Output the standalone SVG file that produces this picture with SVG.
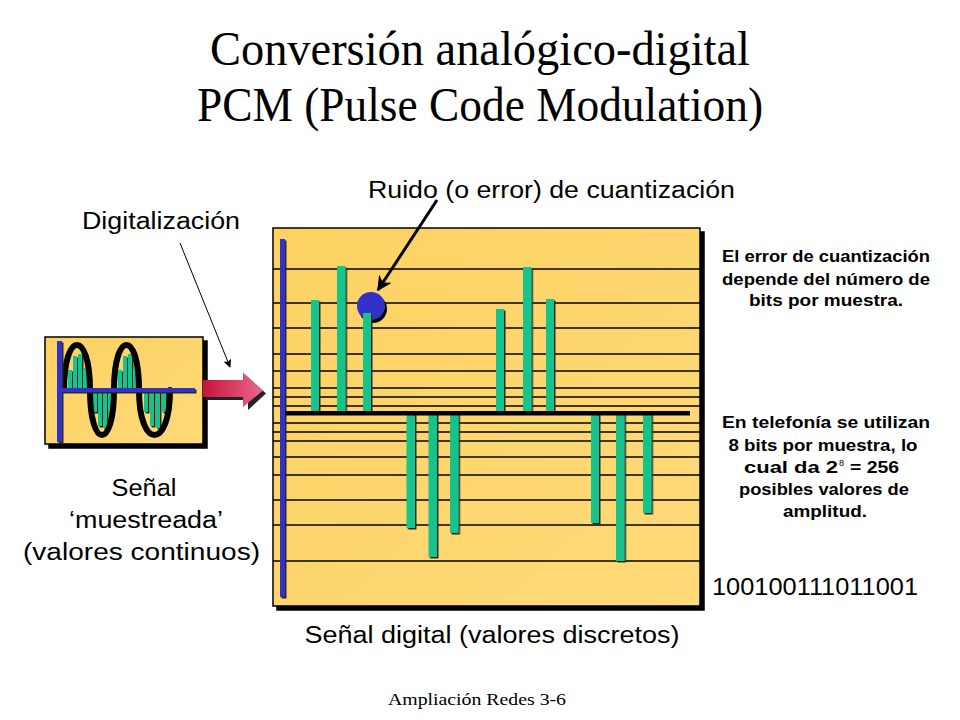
<svg xmlns="http://www.w3.org/2000/svg" width="960" height="720" viewBox="0 0 960 720">
<defs>
  <linearGradient id="boxFill" x1="0" y1="0" x2="1" y2="1">
    <stop offset="0" stop-color="#FDD263"/>
    <stop offset="1" stop-color="#FFDA78"/>
  </linearGradient>
  <linearGradient id="redArrow" x1="0" y1="0" x2="1" y2="0">
    <stop offset="0" stop-color="#C8143C"/>
    <stop offset="1" stop-color="#E8688A"/>
  </linearGradient>
  <filter id="boxShadow" x="-5%" y="-5%" width="115%" height="115%">
    <feDropShadow dx="4" dy="4" stdDeviation="0" flood-color="#000" flood-opacity="1"/>
  </filter>
  <filter id="barShadow" x="-50%" y="-5%" width="200%" height="110%">
    <feDropShadow dx="1.5" dy="1.5" stdDeviation="0" flood-color="#2a2a2a" flood-opacity="1"/>
  </filter>
  <marker id="arrowThick" viewBox="0 0 10 10" refX="9" refY="5" markerWidth="5" markerHeight="5" orient="auto" markerUnits="strokeWidth">
    <path d="M0,0 L10,5 L0,10 L3,5 Z" fill="#000"/>
  </marker>
  <marker id="arrowThin" viewBox="0 0 10 10" refX="9" refY="5" markerWidth="10" markerHeight="8" orient="auto" markerUnits="strokeWidth">
    <path d="M0,0 L10,5 L0,10 L2,5 Z" fill="#000"/>
  </marker>
  <style>
    .title { font-family: "Liberation Serif", "Times New Roman", serif; font-size: 48px; fill: #000; text-anchor: middle; }
    .label { font-family: "Liberation Sans", Arial, sans-serif; font-size: 23px; fill: #000; text-anchor: middle; }
    .note { font-family: "Liberation Sans", Arial, sans-serif; font-size: 16px; font-weight: bold; fill: #000; text-anchor: middle; }
    .noteL { font-family: "Liberation Sans", Arial, sans-serif; font-size: 16px; font-weight: bold; fill: #000; }
    .sup { font-family: "Liberation Sans", Arial, sans-serif; font-size: 9px; fill: #000; }
    .footer { font-family: "Liberation Serif", "Times New Roman", serif; font-size: 17px; fill: #000; text-anchor: middle; }
    .grid { stroke: #000; stroke-width: 1.3; }
    .bar { fill: #19C38C; }
    .axisBlue { fill: #3232C8; }
  </style>
</defs>

<rect x="0" y="0" width="960" height="720" fill="#fff"/>

<g id="title">
  <text class="title" x="480" y="65" textLength="540" lengthAdjust="spacingAndGlyphs">Conversión analógico-digital</text>
  <text class="title" x="480" y="121" textLength="566" lengthAdjust="spacingAndGlyphs">PCM (Pulse Code Modulation)</text>
</g>

<!-- Small sampled signal box -->
<g id="sampled-signal">
  <rect x="45" y="337" width="158" height="107" fill="url(#boxFill)" stroke="#000" stroke-width="1.5" filter="url(#boxShadow)"/>
  <g filter="url(#barShadow)">
    <rect class="bar" x="68" y="370" width="4" height="20"/>
    <rect class="bar" x="73" y="356" width="4" height="34"/>
    <rect class="bar" x="78" y="354" width="4" height="36"/>
    <rect class="bar" x="83" y="368" width="4" height="22"/>
    <rect class="bar" x="93" y="390" width="4" height="22"/>
    <rect class="bar" x="98" y="390" width="4" height="36"/>
    <rect class="bar" x="103" y="390" width="4" height="38"/>
    <rect class="bar" x="108" y="390" width="4" height="22"/>
    <rect class="bar" x="118" y="370" width="4" height="20"/>
    <rect class="bar" x="123" y="356" width="4" height="34"/>
    <rect class="bar" x="128" y="354" width="4" height="36"/>
    <rect class="bar" x="133" y="368" width="4" height="22"/>
    <rect class="bar" x="144" y="390" width="4" height="22"/>
    <rect class="bar" x="150" y="390" width="4" height="36"/>
    <rect class="bar" x="156" y="390" width="4" height="38"/>
    <rect class="bar" x="162" y="390" width="4" height="22"/>
  </g>
  <path fill="none" stroke="#000" stroke-width="6" stroke-linejoin="round" stroke-linecap="round"
    d="M64,390 C64,330 90,330 90,390 C90,450 114,450 114,390 C114,330 139,330 139,390 C139,450 170,450 170,390"/>
  <g filter="url(#barShadow)">
    <rect class="axisBlue" x="57" y="341" width="5" height="101"/>
    <rect class="axisBlue" x="62" y="388" width="133" height="4"/>
  </g>
</g>

<!-- Main digital signal box -->
<g id="digital-signal">
  <rect x="273" y="228" width="427" height="378" fill="url(#boxFill)" stroke="#000" stroke-width="1.5" filter="url(#boxShadow)"/>
  <g id="levels">
    <line class="grid" x1="273" y1="269" x2="700" y2="269"/>
    <line class="grid" x1="273" y1="303" x2="700" y2="303"/>
    <line class="grid" x1="273" y1="328" x2="700" y2="328"/>
    <line class="grid" x1="273" y1="354" x2="700" y2="354"/>
    <line class="grid" x1="273" y1="371" x2="700" y2="371"/>
    <line class="grid" x1="273" y1="388" x2="700" y2="388"/>
    <line class="grid" x1="273" y1="397" x2="700" y2="397"/>
    <line class="grid" x1="273" y1="406" x2="700" y2="406"/>
    <line class="grid" x1="273" y1="423" x2="700" y2="423"/>
    <line class="grid" x1="273" y1="432" x2="700" y2="432"/>
    <line class="grid" x1="273" y1="441" x2="700" y2="441"/>
    <line class="grid" x1="273" y1="457" x2="700" y2="457"/>
    <line class="grid" x1="273" y1="475" x2="700" y2="475"/>
    <line class="grid" x1="273" y1="500" x2="700" y2="500"/>
    <line class="grid" x1="273" y1="525" x2="700" y2="525"/>
    <line class="grid" x1="273" y1="561" x2="700" y2="561"/>
  </g>
  <g id="error-dot">
    <circle cx="373" cy="309" r="14" fill="#000"/>
    <circle cx="371" cy="306" r="14" fill="#3232C8"/>
  </g>
  <g id="samples" filter="url(#barShadow)">
    <rect class="bar" x="311" y="300" width="8" height="113"/>
    <rect class="bar" x="337" y="266" width="8.5" height="147"/>
    <rect class="bar" x="363" y="313" width="8" height="100"/>
    <rect class="bar" x="496" y="309" width="8" height="104"/>
    <rect class="bar" x="523" y="267" width="8.5" height="146"/>
    <rect class="bar" x="546" y="299" width="8" height="114"/>
    <rect class="bar" x="406.5" y="413" width="8.5" height="115"/>
    <rect class="bar" x="428.5" y="413" width="8.5" height="144"/>
    <rect class="bar" x="450" y="413" width="8.5" height="120"/>
    <rect class="bar" x="591" y="413" width="8" height="110"/>
    <rect class="bar" x="616" y="413" width="8.5" height="148"/>
    <rect class="bar" x="643" y="413" width="8.5" height="100"/>
  </g>
  <g filter="url(#barShadow)">
    <rect class="axisBlue" x="280" y="239" width="5" height="358"/>
  </g>
  <rect x="285" y="411" width="405" height="4.5" fill="#000"/>
</g>

<!-- Connectors -->
<g id="connectors">
  <g id="sample-arrow">
    <path d="M206,383 L246,383 L246,375.5 L266,393.5 L248,410 L248,400 L206,400 Z" fill="#222"/>
    <path d="M203,380 L243,380 L243,372.5 L263,390.5 L243,407 L243,397 L203,397 Z" fill="url(#redArrow)"/>
  </g>
  <line x1="180" y1="243" x2="230" y2="367" stroke="#000" stroke-width="1" marker-end="url(#arrowThin)"/>
  <line x1="437" y1="200" x2="378" y2="290" stroke="#000" stroke-width="3" marker-end="url(#arrowThick)"/>
</g>

<g id="labels">
  <text class="label" x="551.5" y="198" textLength="367" lengthAdjust="spacingAndGlyphs">Ruido (o error) de cuantización</text>
  <text class="label" x="161" y="229" textLength="158" lengthAdjust="spacingAndGlyphs">Digitalización</text>
  <text class="label" x="144" y="496" textLength="65" lengthAdjust="spacingAndGlyphs">Señal</text>
  <text class="label" x="146" y="528" textLength="154" lengthAdjust="spacingAndGlyphs">‘muestreada’</text>
  <text class="label" x="141.5" y="560" textLength="237" lengthAdjust="spacingAndGlyphs">(valores continuos)</text>
  <text class="label" x="492" y="643" textLength="375" lengthAdjust="spacingAndGlyphs">Señal digital (valores discretos)</text>
  <text class="label" x="815" y="595" textLength="206" lengthAdjust="spacingAndGlyphs">100100111011001</text>
  <text class="note" x="826" y="262" textLength="208" lengthAdjust="spacingAndGlyphs">El error de cuantización</text>
  <text class="note" x="826" y="285" textLength="208" lengthAdjust="spacingAndGlyphs">depende del número de</text>
  <text class="note" x="826" y="306" textLength="154" lengthAdjust="spacingAndGlyphs">bits por muestra.</text>
  <text class="note" x="826" y="428" textLength="208" lengthAdjust="spacingAndGlyphs">En telefonía se utilizan</text>
  <text class="note" x="823" y="451" textLength="189" lengthAdjust="spacingAndGlyphs">8 bits por muestra, lo</text>
  <text class="noteL" x="744" y="473" textLength="94" lengthAdjust="spacingAndGlyphs">cual da 2</text>
  <text class="sup" x="839" y="466">8</text>
  <text class="noteL" x="850" y="473" textLength="49" lengthAdjust="spacingAndGlyphs">= 256</text>
  <text class="note" x="824" y="495" textLength="170" lengthAdjust="spacingAndGlyphs">posibles valores de</text>
  <text class="note" x="825" y="517" textLength="84" lengthAdjust="spacingAndGlyphs">amplitud.</text>
  <text class="footer" x="477" y="705" textLength="178" lengthAdjust="spacingAndGlyphs">Ampliación Redes 3-6</text>
</g>
</svg>
